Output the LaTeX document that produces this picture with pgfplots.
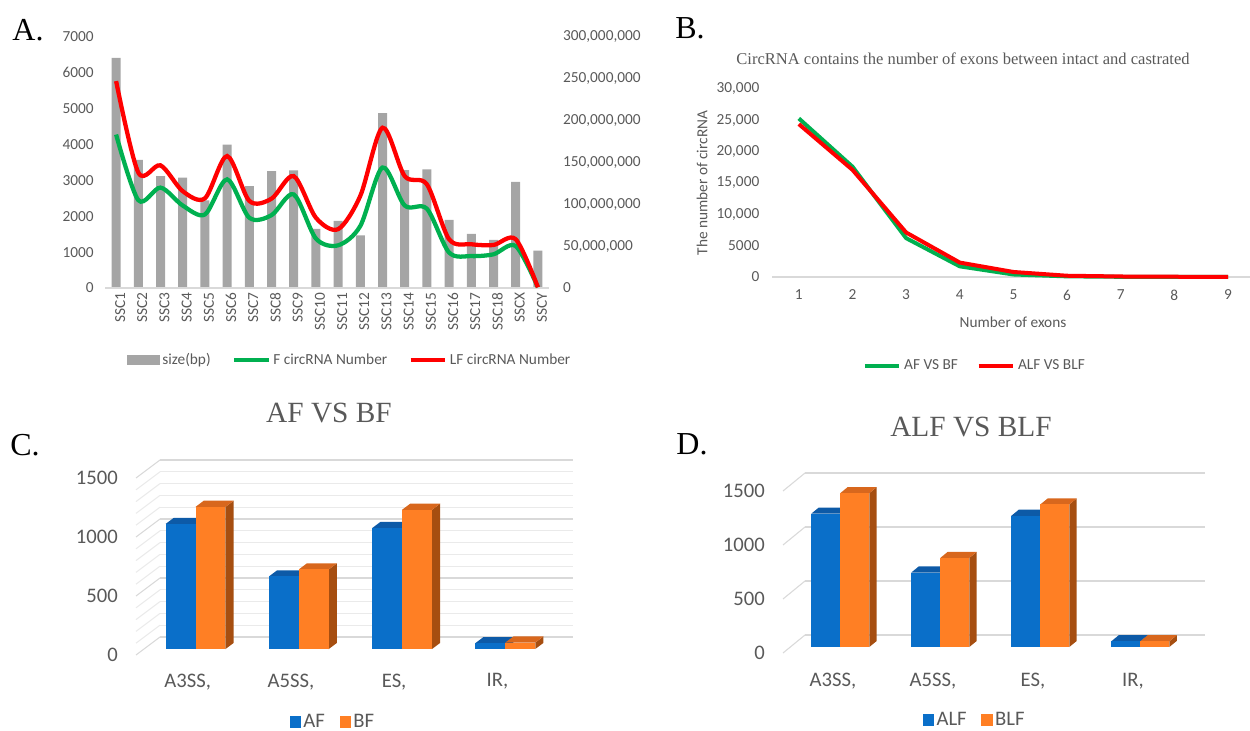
\documentclass[border=0pt]{standalone}
\usepackage{pgfplots}
\pgfplotsset{compat=1.18}
\usepackage{fontspec}
\setmainfont{Carlito}
\newfontfamily\serifttl{Liberation Serif}
\definecolor{tickgray}{HTML}{595959}
\definecolor{axgray}{HTML}{D9D9D9}
\definecolor{gridmaj}{HTML}{D9D9D9}
\definecolor{gridmin}{HTML}{EAEAEA}
\definecolor{barGray}{HTML}{A5A5A5}
\definecolor{cgreen}{HTML}{00B050}
\definecolor{cred}{HTML}{FF0000}
\definecolor{cblue}{HTML}{0A6FC9}
\definecolor{cbluetop}{HTML}{0D5AA7}
\definecolor{cblueside}{HTML}{094C8E}
\definecolor{corange}{HTML}{FF7F24}
\definecolor{corangetop}{HTML}{D8671D}
\definecolor{corangeside}{HTML}{A64E10}

% 3D column: #1 left x, #2 value, #3 front, #4 top, #5 side
\newcommand{\tdbar}[5]{%
  \pgfmathsetmacro{\xr}{#1+0.29}%
  \addplot3[draw=none,fill=#5,forget plot] coordinates {(\xr,0.33,0) (\xr,0.67,0) (\xr,0.67,#2) (\xr,0.33,#2)};
  \addplot3[draw=none,fill=#4,forget plot] coordinates {(#1,0.33,#2) (\xr,0.33,#2) (\xr,0.67,#2) (#1,0.67,#2)};
  \addplot3[draw=none,fill=#3,forget plot] coordinates {(#1,0.33,0) (\xr,0.33,0) (\xr,0.33,#2) (#1,0.33,#2)};
}

\tikzset{
  tfA/.style={font=\fontsize{11.5}{13}\selectfont, text=tickgray},
  tfC/.style={font=\fontsize{15.5}{17}\selectfont, text=tickgray},
  zlab/.style={tfC, anchor=east, inner sep=0pt, xshift=-13.5pt},
}

\begin{document}
\begin{tikzpicture}
\useasboundingbox (0,0) rectangle (937.5pt,548.25pt);

% ---------------- Panel A : bars (secondary axis) ----------------
\begin{axis}[
  at={(78.75pt,332.25pt)}, anchor=south west,
  scale only axis, width=333pt, height=188.25pt,
  xmin=-0.5, xmax=19.5, ymin=0, ymax=300000000,
  axis x line=none, axis y line*=right,
  y axis line style={draw=none},
  major tick length=0pt,
  scaled y ticks=false,
  /pgf/number format/assume math mode=true,
  ytick={0,50000000,100000000,150000000,200000000,250000000,300000000},
  yticklabels={0,{50,000,000},{100,000,000},{150,000,000},{200,000,000},{250,000,000},{300,000,000}},
  yticklabel style={tfA, anchor=west, xshift=7pt},
  clip=false,
]
\addplot[ybar, bar width=6.75pt, fill=barGray, draw=none] coordinates {
(0,275000000) (1,153000000) (2,133700000) (3,132000000) (4,104600000)
(5,171400000) (6,121700000) (7,139700000) (8,140600000) (9,70700000)
(10,80100000) (11,63000000) (12,209100000) (13,141000000) (14,141900000)
(15,81400000) (16,64700000) (17,57400000) (18,126900000) (19,44600000)};
\end{axis}

% ---------------- Panel A : lines (primary axis) ----------------
\begin{axis}[
  at={(78.75pt,332.25pt)}, anchor=south west,
  scale only axis, width=333pt, height=188.25pt,
  xmin=-0.5, xmax=19.5, ymin=0, ymax=7000,
  axis x line*=bottom, axis y line*=left,
  x axis line style={draw=axgray, line width=0.8pt, -},
  y axis line style={draw=none},
  major tick length=0pt,
  scaled y ticks=false,
  /pgf/number format/assume math mode=true,
  ytick={0,1000,2000,3000,4000,5000,6000,7000},
  yticklabels={0,1000,2000,3000,4000,5000,6000,7000},
  yticklabel style={tfA, xshift=-5pt},
  xtick={0,...,19},
  xticklabels={SSC1,SSC2,SSC3,SSC4,SSC5,SSC6,SSC7,SSC8,SSC9,SSC10,SSC11,SSC12,SSC13,SSC14,SSC15,SSC16,SSC17,SSC18,SSCX,SSCY},
  xticklabel style={tfA, rotate=90, anchor=east, yshift=-3pt},
  clip=false,
  legend style={at={(0.552,-0.287)}, anchor=center, draw=none, fill=none,
    tfA, legend columns=3, /tikz/every even column/.append style={column sep=14pt}},
]
\addlegendimage{legend image code/.code={\fill[barGray] (0pt,-3.5pt) rectangle (24pt,3.5pt);}}
\addlegendentry{size(bp)}
\addlegendimage{legend image code/.code={\draw[cgreen, line width=3pt] (0pt,0pt) -- (26pt,0pt);}}
\addlegendentry{F circRNA Number}
\addlegendimage{legend image code/.code={\draw[cred, line width=3pt] (0pt,0pt) -- (26pt,0pt);}}
\addlegendentry{LF circRNA Number}
\addplot[cgreen, line width=3.2pt, smooth, forget plot] coordinates {
(0,4280) (1,2450) (2,2800) (3,2300) (4,2050) (5,3030) (6,1960) (7,2030) (8,2610) (9,1380)
(10,1190) (11,1730) (12,3360) (13,2300) (14,2210) (15,990) (16,890) (17,940) (18,1170) (19,20)};
\addplot[cred, line width=3.2pt, smooth, forget plot] coordinates {
(0,5770) (1,3220) (2,3420) (3,2700) (4,2500) (5,3680) (6,2430) (7,2490) (8,3120) (9,1960)
(10,1640) (11,2570) (12,4470) (13,3120) (14,2890) (15,1360) (16,1220) (17,1200) (18,1360) (19,20)};
\end{axis}

% ---------------- Panel B ----------------
\begin{axis}[
  at={(579pt,340.5pt)}, anchor=south west,
  scale only axis, width=358.5pt, height=141pt,
  xmin=0.5, xmax=9.41, ymin=0, ymax=30000,
  axis x line*=bottom, axis y line*=left,
  x axis line style={draw=axgray, line width=0.8pt, -},
  y axis line style={draw=none},
  major tick length=0pt,
  scaled y ticks=false,
  /pgf/number format/assume math mode=true,
  ytick={0,5000,10000,15000,20000,25000,30000},
  yticklabels={0,5000,{10,000},{15,000},{20,000},{25,000},{30,000}},
  yticklabel style={tfA, xshift=-6pt},
  xtick={1,...,9},
  xticklabels={1,2,3,4,5,6,7,8,9},
  xticklabel style={tfA, yshift=-6pt},
  clip=false,
  legend style={at={(0.425,-0.473)}, anchor=center, draw=none, fill=none,
    tfA, legend columns=2, /tikz/every even column/.append style={column sep=12pt}},
]
\addlegendimage{legend image code/.code={\draw[cgreen, line width=3pt] (0pt,0pt) -- (26pt,0pt);}}
\addlegendentry{AF VS BF}
\addlegendimage{legend image code/.code={\draw[cred, line width=3pt] (0pt,0pt) -- (26pt,0pt);}}
\addlegendentry{ALF VS BLF}
\addplot[cgreen, line width=3pt, line join=round, forget plot] coordinates {
(1,25300) (2,17600) (3,6200) (4,1700) (5,400) (6,100) (7,30) (8,10) (9,5)};
\addplot[cred, line width=3pt, line join=round, forget plot] coordinates {
(1,24400) (2,17100) (3,7100) (4,2300) (5,800) (6,200) (7,80) (8,40) (9,20)};
\end{axis}

% ---------------- Panel C ----------------
\begin{axis}[
  at={(102pt,57pt)}, anchor=origin,
  x={(77.44pt,0pt)}, y={(18pt,13.5pt)}, z={(0pt,0.0885pt)},
  xmin=0, xmax=4, ymin=0, ymax=1, zmin=0, zmax=1500,
  xtick=\empty, ytick=\empty,
  ztick={0,500,1000,1500}, zticklabels={},
  minor z tick num=4,
  zmajorgrids, zminorgrids,
  major grid style={draw=gridmaj, line width=0.8pt},
  minor grid style={draw=gridmin, line width=0.8pt},
  axis line style={draw=none}, tick style={draw=none},
  major tick length=0pt, minor tick length=0pt,
  clip=false,
  legend style={at={(axis cs:1.91,0,0)}, anchor=center, yshift=-50pt, draw=none, fill=none,
    tfC, legend columns=2, /tikz/every even column/.append style={column sep=9pt}},
]
\addlegendimage{legend image code/.code={\fill[cblue] (0pt,-4pt) rectangle (8pt,4pt);}}
\addlegendentry{AF}
\addlegendimage{legend image code/.code={\fill[corange] (0pt,-4pt) rectangle (8pt,4pt);}}
\addlegendentry{BF}
\tdbar{0.21}{1060}{cblue}{cbluetop}{cblueside}
\tdbar{0.50}{1205}{corange}{corangetop}{corangeside}
\tdbar{1.21}{615}{cblue}{cbluetop}{cblueside}
\tdbar{1.50}{675}{corange}{corangetop}{corangeside}
\tdbar{2.21}{1025}{cblue}{cbluetop}{cblueside}
\tdbar{2.50}{1180}{corange}{corangetop}{corangeside}
\tdbar{3.21}{50}{cblue}{cbluetop}{cblueside}
\tdbar{3.50}{55}{corange}{corangetop}{corangeside}
\node[zlab] at (axis cs:0,0,0) {0};
\node[zlab] at (axis cs:0,0,500) {500};
\node[zlab] at (axis cs:0,0,1000) {1000};
\node[zlab] at (axis cs:0,0,1500) {1500};
\node[tfC, yshift=-20pt] at (axis cs:0.5,0,0) {A3SS,};
\node[tfC, yshift=-20pt] at (axis cs:1.5,0,0) {A5SS,};
\node[tfC, yshift=-20pt] at (axis cs:2.5,0,0) {ES,};
\node[tfC, yshift=-20pt] at (axis cs:3.5,0,0) {IR,};
\end{axis}

% ---------------- Panel D ----------------
\begin{axis}[
  at={(587.25pt,58.5pt)}, anchor=origin,
  x={(75pt,0pt)}, y={(16.5pt,13.5pt)}, z={(0pt,0.081pt)},
  xmin=0, xmax=4, ymin=0, ymax=1, zmin=0, zmax=1500,
  xtick=\empty, ytick=\empty,
  ztick={0,500,1000,1500}, zticklabels={},
  zmajorgrids,
  major grid style={draw=gridmaj, line width=0.8pt},
  axis line style={draw=none}, tick style={draw=none},
  major tick length=0pt,
  clip=false,
  legend style={at={(axis cs:1.92,0,0)}, anchor=center, yshift=-50pt, draw=none, fill=none,
    tfC, legend columns=2, /tikz/every even column/.append style={column sep=9pt}},
]
\addlegendimage{legend image code/.code={\fill[cblue] (0pt,-4pt) rectangle (8pt,4pt);}}
\addlegendentry{ALF}
\addlegendimage{legend image code/.code={\fill[corange] (0pt,-4pt) rectangle (8pt,4pt);}}
\addlegendentry{BLF}
\tdbar{0.21}{1235}{cblue}{cbluetop}{cblueside}
\tdbar{0.50}{1425}{corange}{corangetop}{corangeside}
\tdbar{1.21}{690}{cblue}{cbluetop}{cblueside}
\tdbar{1.50}{825}{corange}{corangetop}{corangeside}
\tdbar{2.21}{1215}{cblue}{cbluetop}{cblueside}
\tdbar{2.50}{1320}{corange}{corangetop}{corangeside}
\tdbar{3.21}{53}{cblue}{cbluetop}{cblueside}
\tdbar{3.50}{53}{corange}{corangetop}{corangeside}
\node[zlab] at (axis cs:0,0,0) {0};
\node[zlab] at (axis cs:0,0,500) {500};
\node[zlab] at (axis cs:0,0,1000) {1000};
\node[zlab] at (axis cs:0,0,1500) {1500};
\node[tfC, yshift=-21pt] at (axis cs:0.5,0,0) {A3SS,};
\node[tfC, yshift=-21pt] at (axis cs:1.5,0,0) {A5SS,};
\node[tfC, yshift=-21pt] at (axis cs:2.5,0,0) {ES,};
\node[tfC, yshift=-21pt] at (axis cs:3.5,0,0) {IR,};
\end{axis}

% ---------------- Texts ----------------
\node[font=\serifttl\fontsize{24}{24}\selectfont] at (21pt,525.75pt) {A.};
\node[font=\serifttl\fontsize{24}{24}\selectfont] at (517.5pt,527.25pt) {B.};
\node[font=\serifttl\fontsize{24}{24}\selectfont] at (18.75pt,214.5pt) {C.};
\node[font=\serifttl\fontsize{24}{24}\selectfont] at (519pt,215.25pt) {D.};
\node[font=\serifttl\fontsize{12.4}{14}\selectfont, text=tickgray] at (722.25pt,504pt) {CircRNA contains the number of exons between intact and castrated};
\node[font=\serifttl\fontsize{22}{24}\selectfont, text=tickgray] at (246.75pt,238.5pt) {AF VS BF};
\node[font=\serifttl\fontsize{22}{24}\selectfont, text=tickgray] at (728.25pt,228pt) {ALF VS BLF};
\node[font=\fontsize{11.5}{13}\selectfont, text=tickgray] at (759.75pt,306.75pt) {Number of exons};
\node[font=\fontsize{11.5}{13}\selectfont, text=tickgray, rotate=90] at (526.5pt,411pt) {The number of circRNA};
\end{tikzpicture}
\end{document}
